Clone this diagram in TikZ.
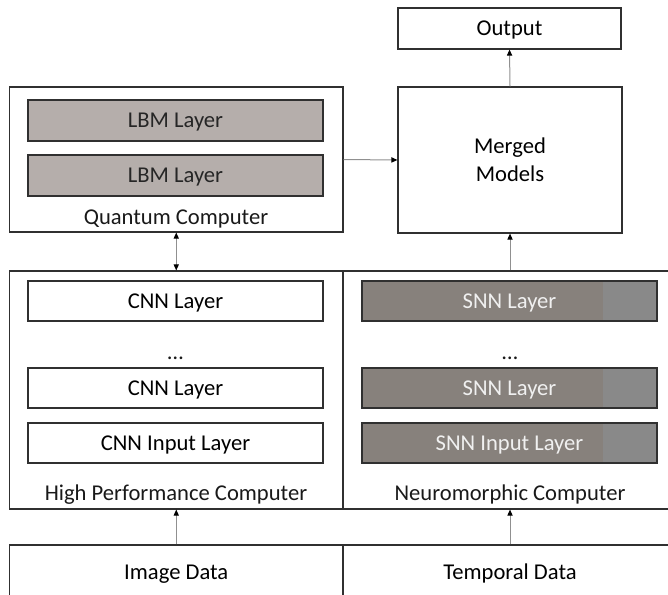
\documentclass[tikz,border=0pt]{standalone}
\usepackage{fontspec}
\setmainfont{Carlito}
\usetikzlibrary{arrows.meta}
\definecolor{edge}{HTML}{303030}
\definecolor{lbmgray}{HTML}{B5AEAB}
\definecolor{snngray}{HTML}{87817C}
\definecolor{snnright}{HTML}{898989}
\definecolor{arrgray}{HTML}{909090}
\tikzset{
    blk/.tip={Triangle[length=3pt, width=2.6pt, color=black]},
    box/.style={draw=edge, line width=0.6pt, rectangle, inner sep=0pt, align=center, text depth=0pt},
    layerbox/.style={box, minimum width=147.5pt, minimum height=20pt},
    lbm/.style={layerbox, fill=lbmgray, minimum height=20.5pt, text=black!85},
    snn/.style={layerbox, fill=snngray, text=white!94!black,
        path picture={\fill[snnright] ([xshift=-27pt]path picture bounding box.north east) rectangle (path picture bounding box.south east);}},
    tag/.style={inner sep=0pt, text=black!90, text depth=0pt},
    arr/.style={draw=arrgray, line width=0.5pt, -blk},
    darr/.style={draw=arrgray, line width=0.5pt, blk-blk}
}

\begin{document}
\begin{tikzpicture}[x=0.5pt, y=-0.5pt, font=\fontsize{11.3}{14}\selectfont]

    \useasboundingbox (0,0) rectangle (668,594);
    \clip (0,0) rectangle (668,594);

    % quantum computer
    \node[box, minimum width=166.75pt, minimum height=72.5pt] (quantum) at (176.25,159.5) {};
    \node[lbm] (lbm1) at (175.5,120.5) {LBM Layer};
    \node[lbm] (lbm2) at (175.5,175.5) {LBM Layer};
    \node[tag] (qlabel) at (176,217) {Quantum Computer};

    % merged models and output
    \node[box, minimum width=111.5pt, minimum height=20.5pt] (output) at (509.5,28.5) {Output};
    \node[box, minimum width=112pt, minimum height=73pt] (merged) at (510,160) {Merged\\Models};

    % high performance computer
    \node[box, minimum width=166.75pt, minimum height=119pt] (hpc) at (176.25,390) {};
    \node[layerbox] (cnn1) at (175.5,301) {CNN Layer};
    \node[tag] (cnndots) at (175.5,358) {\dots};
    \node[layerbox] (cnn2) at (175.5,388) {CNN Layer};
    \node[layerbox] (cnnin) at (175.5,443) {CNN Input Layer};
    \node[tag] (hpclabel) at (176,493) {High Performance Computer};

    % neuromorphic computer
    \node[box, minimum width=167pt, minimum height=119pt] (neuro) at (510,390) {};
    \node[snn] (snn1) at (509.5,301) {SNN Layer};
    \node[tag] (snndots) at (510,358) {\dots};
    \node[snn] (snn2) at (509.5,388) {SNN Layer};
    \node[snn] (snnin) at (509.5,443) {SNN Input Layer};
    \node[tag] (nlabel) at (510,493) {Neuromorphic Computer};

    % data sources
    \node[box, minimum width=166.75pt, minimum height=27pt] (image) at (176.25,572) {Image Data};
    \node[box, minimum width=167pt, minimum height=27pt] (temporal) at (510,572) {Temporal Data};

    % connectors
    \draw[darr] (quantum.south) -- (hpc.north);
    \draw[arr] (quantum.east) -- (merged.west);
    \draw[arr] (merged.north) -- (output.south);
    \draw[arr] (neuro.north) -- (merged.south);
    \draw[arr] (image.north) -- (hpc.south);
    \draw[arr] (temporal.north) -- (neuro.south);
\end{tikzpicture}
\end{document}
